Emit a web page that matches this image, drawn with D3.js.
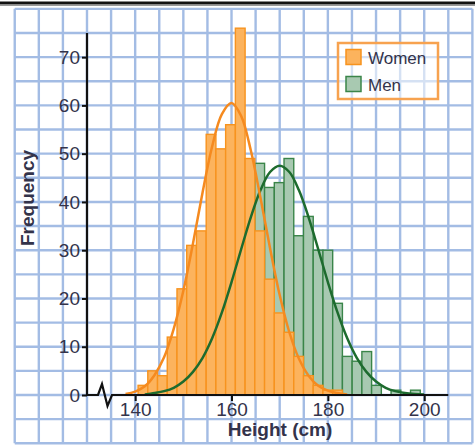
<!DOCTYPE html>
<html>
<head>
<meta charset="utf-8">
<script src="https://cdnjs.cloudflare.com/ajax/libs/d3/7.8.5/d3.min.js"></script>
<style>
  body { margin: 0; background: #fff; }
  text { font-family: "Liberation Sans", Arial, sans-serif; }
</style>
</head>
<body>
<div id="root"></div>
<script>
// histogram bins (cm): first lower edge and width
const binStart = 140.6;
const binWidth = 2.02;

const womenCounts = [2, 5, 4, 12, 22, 31, 34, 54, 51, 56, 76, 49, 34, 24, 17, 13, 8, 4, 2, 1, 1];
const menCounts = [0, 1, 1, 2, 3, 5, 8, 12, 17, 22, 30, 38, 48, 43, 44, 49, 33, 37, 30, 30, 19, 8, 7, 9, 2, 0, 1, 0, 1];

// fitted curves
const womenCurveX = [138, 140, 142, 144, 146, 148, 150, 152, 154, 156, 158, 160, 162, 164, 166, 168, 170, 172, 174, 176, 178, 180, 182, 184];
const womenCurveY = [0.2, 0.7, 1.8, 4.1, 7.8, 13.7, 21.6, 31.4, 42, 51.6, 58.2, 60.5, 57.8, 50.7, 40.9, 30.4, 20.7, 13, 7.5, 4, 1.9, 0.9, 0.4, 0.1];
const menCurveX = [142, 144, 146, 148, 150, 152, 154, 156, 158, 160, 162, 164, 166, 168, 170, 172, 174, 176, 178, 180, 182, 184, 186, 188, 190, 192, 194, 196, 198, 200];
const menCurveY = [0.1, 0.4, 0.8, 1.5, 2.8, 4.8, 7.7, 11.8, 17.1, 23.4, 30.2, 36.8, 42.4, 46.2, 47.5, 46.2, 42.4, 36.8, 30.2, 23.4, 17.1, 11.8, 7.7, 4.8, 2.8, 1.5, 0.8, 0.4, 0.2, 0.1];

const xTicks = [140, 160, 180, 200];
const yTicks = [0, 10, 20, 30, 40, 50, 60, 70];
const legendLabels = ["Women", "Men"];

class HeightHistogram {
  constructor() {
    this.width = 475;
    this.height = 445;
    this.textColor = "#33334a";
    this.gridColor = "#a3bce4";
    this.women = { fill: "#fcb35d", stroke: "#f7931e", line: "#f58a1f" };
    this.men = { fill: "#a8c9b1", stroke: "#3a8549", line: "#1d6b2e" };
  }

  initialize() {
    this.x = d3.scaleLinear().domain([130, 205]).range([87, 448.3]);
    this.y = d3.scaleLinear().domain([0, 75]).range([395, 33]);
    this.svg = d3
      .select("#root")
      .append("svg")
      .attr("width", this.width)
      .attr("height", this.height);
  }

  drawFrame() {
    this.svg.append("rect")
      .attr("x", 0).attr("y", 1.5)
      .attr("width", this.width).attr("height", 3)
      .attr("fill", "#111");
    this.svg.append("line")
      .attr("x1", 0).attr("x2", this.width)
      .attr("y1", 5.5).attr("y2", 5.5)
      .attr("stroke", "#999").attr("stroke-width", 1);
  }

  drawGrid() {
    const g = this.svg.append("g").attr("stroke", this.gridColor).attr("stroke-width", 2.4);
    const xs = d3.range(115, 211, 5);
    const ys = d3.range(-10, 81, 5);
    g.selectAll(".v").data(xs).enter().append("line")
      .attr("x1", d => this.x(d)).attr("x2", d => this.x(d))
      .attr("y1", this.y(80)).attr("y2", this.y(-10));
    g.selectAll(".h").data(ys).enter().append("line")
      .attr("x1", this.x(115)).attr("x2", this.x(210))
      .attr("y1", d => this.y(d)).attr("y2", d => this.y(d));
  }

  drawBars(counts, colors) {
    this.svg.append("g")
      .selectAll("rect")
      .data(counts.map((c, i) => ({ c, lo: binStart + i * binWidth })).filter(d => d.c > 0))
      .enter()
      .append("rect")
      .attr("x", d => this.x(d.lo))
      .attr("width", this.x(binStart + binWidth) - this.x(binStart))
      .attr("y", d => this.y(d.c))
      .attr("height", d => this.y(0) - this.y(d.c))
      .attr("fill", colors.fill)
      .attr("stroke", colors.stroke)
      .attr("stroke-width", 1.4);
  }

  drawCurve(xs, ys, color) {
    const line = d3.line()
      .x(d => this.x(d[0]))
      .y(d => this.y(d[1]))
      .curve(d3.curveCatmullRom);
    this.svg.append("path")
      .datum(xs.map((v, i) => [v, ys[i]]))
      .attr("d", line)
      .attr("fill", "none")
      .attr("stroke", color)
      .attr("stroke-width", 2.5);
  }

  drawAxes() {
    const x0 = this.x(130), y0 = this.y(0);
    // x axis with a break near the origin
    this.svg.append("path")
      .attr("d", `M${x0},${y0}H${x0 + 11}L${x0 + 15},${y0 - 11}L${x0 + 20.5},${y0 + 11}L${x0 + 25},${y0}H${this.x(205)}`)
      .attr("fill", "none").attr("stroke", "#111").attr("stroke-width", 2.2)
      .attr("stroke-linejoin", "miter");
    this.svg.append("line")
      .attr("x1", x0).attr("x2", x0)
      .attr("y1", y0 + 1).attr("y2", this.y(75))
      .attr("stroke", "#111").attr("stroke-width", 2.2);

    const xAxis = d3.axisBottom(this.x).tickValues(xTicks).tickSize(6).tickPadding(2);
    const gx = this.svg.append("g").attr("transform", `translate(0,${y0})`).call(xAxis);
    const yAxis = d3.axisLeft(this.y).tickValues(yTicks).tickSize(5).tickPadding(2);
    const gy = this.svg.append("g").attr("transform", `translate(${x0},0)`).call(yAxis);
    [gx, gy].forEach(g => {
      g.select(".domain").remove();
      g.selectAll(".tick line").attr("stroke", "#111").attr("stroke-width", 2);
      g.selectAll(".tick text")
        .attr("fill", this.textColor)
        .style("font-size", "19px");
    });

    this.svg.append("text")
      .attr("x", 280).attr("y", 436)
      .attr("text-anchor", "middle")
      .attr("font-weight", "bold")
      .style("font-size", "19px")
      .attr("fill", this.textColor)
      .text("Height (cm)");
    this.svg.append("text")
      .attr("transform", "translate(34,198) rotate(-90)")
      .attr("text-anchor", "middle")
      .attr("font-weight", "bold")
      .style("font-size", "19px")
      .attr("fill", this.textColor)
      .text("Frequency");
  }

  drawLegend() {
    const g = this.svg.append("g").attr("transform", "translate(338,43)");
    g.append("rect")
      .attr("width", 100).attr("height", 56)
      .attr("fill", "#fff").attr("fill-opacity", 0.55)
      .attr("stroke", "#f7a24f").attr("stroke-width", 2.5);
    const colors = [this.women, this.men];
    const items = g.selectAll(".item").data(legendLabels).enter().append("g")
      .attr("transform", (d, i) => `translate(8,${6.5 + i * 27})`);
    items.append("rect")
      .attr("width", 15).attr("height", 15)
      .attr("fill", (d, i) => colors[i].fill)
      .attr("stroke", (d, i) => colors[i].stroke)
      .attr("stroke-width", 1.5);
    items.append("text")
      .attr("x", 22).attr("y", 14)
      .style("font-size", "17px")
      .attr("fill", this.textColor)
      .text(d => d);
  }

  draw() {
    this.initialize();
    this.drawFrame();
    this.drawGrid();
    this.drawBars(menCounts, this.men);
    this.drawBars(womenCounts, this.women);
    this.drawCurve(menCurveX, menCurveY, this.men.line);
    this.drawCurve(womenCurveX, womenCurveY, this.women.line);
    this.drawAxes();
    this.drawLegend();
  }
}

const chart = new HeightHistogram();
chart.draw();
</script>
</body>
</html>
